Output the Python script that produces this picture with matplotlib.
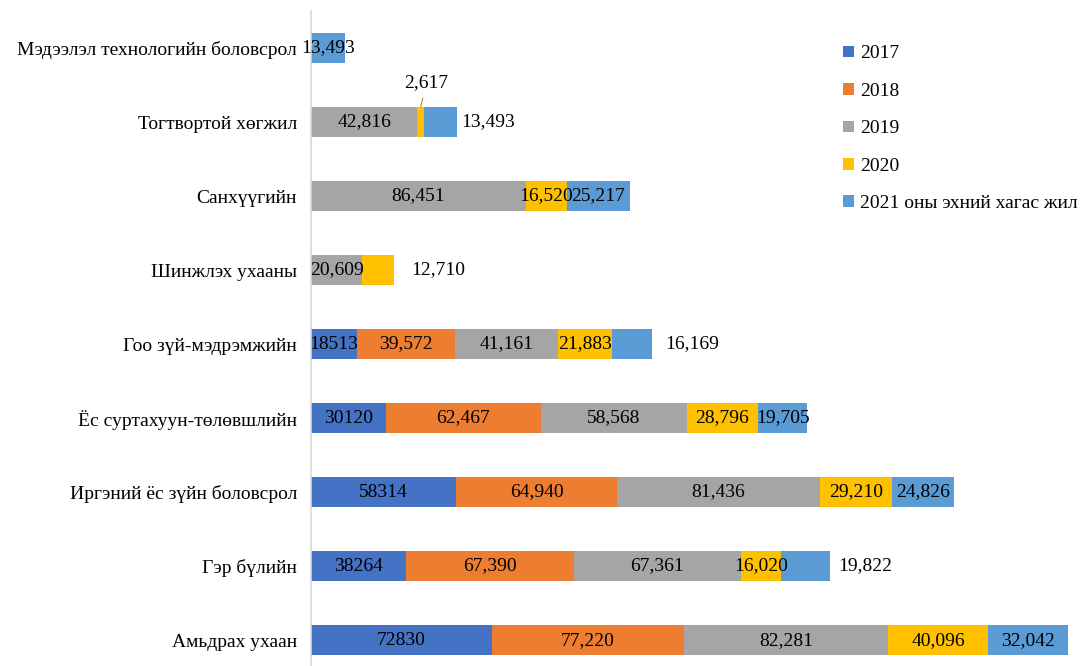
import matplotlib.pyplot as plt
import numpy as np

plt.rcParams['font.family'] = ['Liberation Serif', 'DejaVu Serif']

categories = [
    'Амьдрах ухаан',
    'Гэр бүлийн',
    'Иргэний ёс зүйн боловсрол',
    'Ёс суртахуун-төлөвшлийн',
    'Гоо зүй-мэдрэмжийн',
    'Шинжлэх ухааны',
    'Санхүүгийн',
    'Тогтвортой хөгжил',
    'Мэдээлэл технологийн боловсрол',
]
series_names = ['2017', '2018', '2019', '2020', '2021 оны эхний хагас жил']

v2017 = [72830, 38264, 58314, 30120, 18513, 0, 0, 0, 0]
v2018 = [77220, 67390, 64940, 62467, 39572, 0, 0, 0, 0]
v2019 = [82281, 67361, 81436, 58568, 41161, 20609, 86451, 42816, 0]
v2020 = [40096, 16020, 29210, 28796, 21883, 12710, 16520, 2617, 0]
v2021 = [32042, 19822, 24826, 19705, 16169, 0, 25217, 13493, 13493]

colors = ['#4472C4', '#ED7D31', '#A5A5A5', '#FFC000', '#5B9BD5']

# labels moved outside the bar (category index, series index) -> gap in px
outside = {(5, 3): 17, (4, 4): 13, (7, 4): 4, (1, 4): 8}

fig = plt.figure(figsize=(10.85, 6.66), dpi=100)
ax = fig.add_axes([311 / 1085, 0, 758 / 1085, 1 - 11 / 666])

data = [v2017, v2018, v2019, v2020, v2021]
y = np.arange(len(categories))
left = np.zeros(len(categories))
fs = 14
for si, (vals, col, name) in enumerate(zip(data, colors, series_names)):
    vals = np.array(vals, dtype=float)
    ax.barh(y, vals, left=left, height=0.4, color=col, label=name)
    for ci, v in enumerate(vals):
        if v == 0:
            continue
        txt = f'{int(v)}' if si == 0 else f'{int(v):,}'
        if (ci, si) in outside:
            end = left[ci] + v
            ax.annotate(txt, (end, y[ci]), xytext=(outside[(ci, si)] * 0.72, 0),
                        textcoords='offset points', ha='left', va='center', fontsize=fs)
        elif ci == 7 and si == 3:
            # small segment: label above with a leader line
            ax.annotate(txt, (left[ci] + v / 2, y[ci] + 0.2), xytext=(left[ci] + v / 2 + 2300, y[ci] + 0.53),
                        ha='center', va='center', fontsize=fs,
                        arrowprops=dict(arrowstyle='-', color='#BF9000', lw=0.8, shrinkA=3, shrinkB=0))
        else:
            ax.text(left[ci] + v / 2, y[ci], txt, ha='center', va='center', fontsize=fs)
    left += vals

ax.set_xlim(0, 305000)
ax.set_ylim(-0.35, 8.5)
ax.set_yticks(y)
ax.set_yticklabels(categories, fontsize=fs)
ax.tick_params(axis='y', length=0, pad=10)
ax.set_xticks([])
for s in ['top', 'right', 'bottom']:
    ax.spines[s].set_visible(False)
ax.spines['left'].set_color('#D9D9D9')
ax.spines['left'].set_linewidth(1.2)

handles, labels = ax.get_legend_handles_labels()
fig.legend(handles, labels, loc='upper left', bbox_to_anchor=(826 / 1085, 1 - 28 / 666),
           frameon=False, fontsize=fs, handlelength=0.55, handleheight=0.55,
           handletextpad=0.3, labelspacing=1.05)

fig.savefig('out.png', dpi=100)
